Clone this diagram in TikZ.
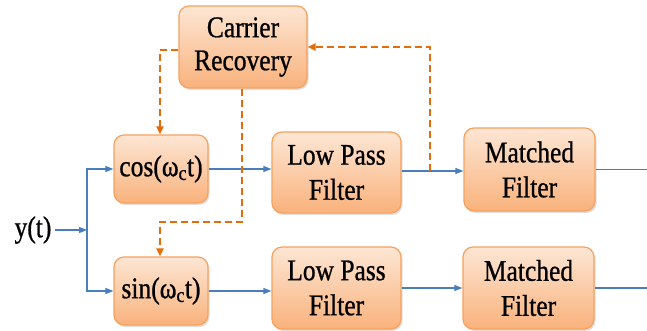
\documentclass[tikz,border=0pt]{standalone}
\usepackage{fontspec}
\setmainfont{Liberation Serif}[FakeStretch=0.85,FakeBold=0.8]
\usetikzlibrary{arrows.meta,shadows,calc}
\definecolor{boxtop}{HTML}{FDE6D4}
\definecolor{boxbot}{HTML}{F9B27C}
\definecolor{boxedge}{HTML}{F6A25E}
\definecolor{sigblue}{HTML}{4A7EBB}
\definecolor{ctrlorange}{HTML}{E46C0A}
\tikzset{
  blk/.style={rectangle, rounded corners=10pt, draw=boxedge, line width=1.2pt,
    top color=boxtop, bottom color=boxbot, align=center,
    font=\fontsize{30}{35}\selectfont, inner sep=0pt,
    drop shadow={shadow xshift=1.5pt, shadow yshift=-2pt, fill=black!25, opacity=0.5}},
  sig/.style={draw=sigblue, line width=1.1pt, -{Triangle[length=8pt,width=6pt]}},
  sigline/.style={draw=sigblue, line width=1.1pt},
  ctrl/.style={draw=ctrlorange, line width=2.4pt, dash pattern=on 7pt off 4pt, -{Triangle[length=8pt,width=7pt]}},
}
\begin{document}
\begin{tikzpicture}[x=1pt,y=-1pt]
\useasboundingbox (0,0) rectangle (647,331);
\node[blk, minimum width=128pt, minimum height=82pt] (cr) at (243,47) {\raisebox{-2pt}{Carrier}\\Recovery};
\node[blk, minimum width=94pt, minimum height=68pt] (cos) at (161,169) {cos(ω\textsubscript{c}t)};
\node[blk, minimum width=94pt, minimum height=68pt] (sin) at (161,291) {sin(ω\textsubscript{c}t)};
\node[blk, minimum width=129pt, minimum height=81pt] (lpf1) at (336.5,172.5) {Low Pass\\Filter};
\node[blk, minimum width=129pt, minimum height=82pt] (lpf2) at (336.5,288) {Low Pass\\Filter};
\node[blk, minimum width=131pt, minimum height=83pt] (mf1) at (529.5,169.5) {Matched\\Filter};
\node[blk, minimum width=131pt, minimum height=82pt] (mf2) at (528.5,288) {Matched\\Filter};
\node[font=\fontsize{30}{35}\selectfont, inner sep=0pt] (yt) at (33,230) {y(t)};
\coordinate (split) at (87,230);
\coordinate (tap) at (430,171);
\coordinate (out1) at (647,169.5);
\coordinate (out2) at (647,288);
\draw[sig] (yt.east) ++(3pt,0) -- (split);
\draw[sig] (split) |- (cos.west);
\draw[sig] (split) |- (sin.west);
\draw[sig] (cos.east) -- (cos.east -| lpf1.west);
\draw[sig] (sin.east) -- (sin.east -| lpf2.west);
\draw[sig] (lpf1.east |- tap) -- (tap -| mf1.west);
\draw[sig] (lpf2.east) -- (mf2.west);
\draw[sigline] (mf1.east) -- (out1);
\draw[sigline] (mf2.east) -- (out2);
\draw[ctrl] (cr.west |- 0,50) -- (160,50) -- (cos.north -| 160,0);
\draw[ctrl] (cr.south -| 242,0) -- (242,222) -- (160,222) -- (sin.north -| 160,0);
\draw[ctrl] (tap) -- (430,47) -- (cr.east |- 0,47);
\end{tikzpicture}
\end{document}
